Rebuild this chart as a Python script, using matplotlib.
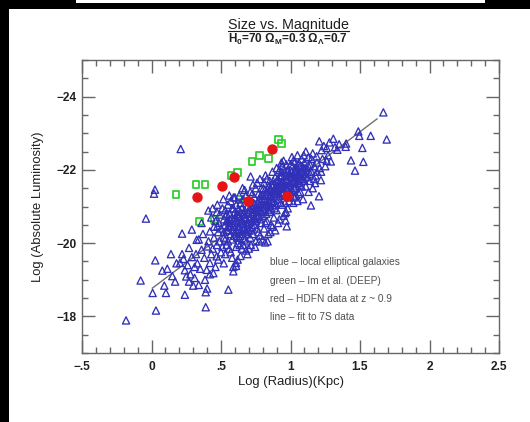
import matplotlib
matplotlib.use("Agg")
import matplotlib.pyplot as plt
from matplotlib.patches import Rectangle
from matplotlib.lines import Line2D

plt.rcParams['font.family'] = ['Liberation Sans', 'DejaVu Sans']
plt.rcParams['mathtext.fontset'] = 'custom'
plt.rcParams['mathtext.rm'] = 'Liberation Sans:bold'
plt.rcParams['mathtext.bf'] = 'Liberation Sans:bold'
plt.rcParams['mathtext.it'] = 'Liberation Sans:bold'

# ---------------- data ----------------
title = "Size vs. Magnitude"
subtitle = r"H$_0$=70 Ω$_M$=0.3 Ω$_Λ$=0.7"
x_label = "Log (Radius)(Kpc)"
y_label = "Log (Absolute Luminosity)"
xtick_values = [-0.5, 0, 0.5, 1, 1.5, 2, 2.5]
xtick_labels = ["\u2212.5", "0", ".5", "1", "1.5", "2", "2.5"]
ytick_values = [-24, -22, -20, -18]
ytick_labels = ["\u221224", "\u221222", "\u221220", "\u221218"]
notes = ["blue \u2013 local elliptical galaxies",
         "green \u2013 Im et al. (DEEP)",
         "red \u2013 HDFN data at z ~ 0.9",
         "line \u2013 fit to 7S data"]

# fit line (two end points)
fit_x = [0.006, 1.622]
fit_y = [-18.77, -23.39]

# red: HDFN z~0.9
red_x = [0.325, 0.505, 0.596, 0.697, 0.865, 0.973]
red_y = [-21.27, -21.55, -21.80, -21.14, -22.57, -21.28]

# green: Im et al. (DEEP)
green_x = [0.176, 0.320, 0.385, 0.572, 0.620, 0.723, 0.776, 0.840, 0.912, 0.937, 0.632, 0.344, 0.452]
green_y = [-21.32, -21.61, -21.60, -21.85, -21.92, -22.22, -22.40, -22.32, -22.82, -22.73, -21.20, -20.58, -20.64]

# blue: local elliptical galaxies
blue_tail = [(-0.183, -17.89), (-0.078, -18.98), (-0.04, -20.67), (0.008, -18.64), (0.032, -18.16),
             (0.027, -19.53), (0.078, -19.25), (0.114, -19.30), (0.092, -18.84), (0.104, -18.64),
             (0.14, -19.70), (0.025, -21.46), (0.018, -21.35), (0.15, -19.10), (0.17, -18.95),
             (0.18, -19.45), (0.205, -19.46)]
blue_low = [(0.21, -22.57), (0.22, -20.26), (0.22, -19.70), (0.23, -19.57), (0.24, -19.26), (0.24, -18.59),
            (0.25, -19.09), (0.27, -19.87), (0.29, -20.37), (0.26, -19.40), (0.28, -19.15), (0.29, -19.62),
            (0.27, -18.95),
            (0.30, -18.84), (0.31, -19.05), (0.325, -20.09), (0.34, -18.86), (0.36, -19.82), (0.40, -19.91),
            (0.39, -18.25), (0.40, -18.76), (0.39, -18.66), (0.385, -19.0), (0.397, -19.27), (0.33, -19.45),
            (0.35, -19.30), (0.37, -20.25), (0.38, -19.60), (0.32, -19.70), (0.36, -20.55), (0.34, -20.10),
            (0.31, -19.35),
            (0.409, -20.89), (0.474, -21.05), (0.42, -20.32), (0.474, -20.46), (0.42, -19.46), (0.445, -19.18),
            (0.469, -19.64), (0.41, -20.05), (0.43, -20.70), (0.44, -19.85), (0.45, -20.15), (0.46, -20.60),
            (0.47, -19.95), (0.48, -20.30), (0.49, -20.78), (0.43, -19.70), (0.45, -20.45), (0.48, -19.55),
            (0.46, -19.35), (0.49, -20.05), (0.44, -20.95), (0.47, -20.85), (0.42, -19.15), (0.485, -20.55)]
blue_mid = [(0.517, -21.2), (0.553, -18.73), (0.589, -19.35), (0.608, -19.46), (0.589, -19.23), (0.608, -19.38),
            (0.50, -20.40), (0.51, -19.90), (0.52, -20.65), (0.52, -20.15), (0.53, -20.90), (0.53, -19.70),
            (0.54, -20.35), (0.54, -20.80), (0.55, -20.05), (0.55, -21.05), (0.56, -20.55), (0.56, -19.85),
            (0.57, -20.25), (0.57, -21.15), (0.58, -20.70), (0.58, -19.60), (0.59, -20.45), (0.59, -20.95),
            (0.50, -19.75), (0.51, -20.95), (0.52, -19.45), (0.53, -20.50), (0.54, -19.95), (0.55, -20.60),
            (0.56, -21.30), (0.57, -19.75), (0.58, -20.10), (0.59, -21.25), (0.595, -20.20),
            (0.713, -21.82), (0.60, -20.85), (0.60, -20.30), (0.61, -19.90), (0.61, -21.05), (0.62, -20.55),
            (0.62, -20.00), (0.63, -21.30), (0.63, -20.75), (0.64, -20.20), (0.64, -19.65), (0.65, -20.95),
            (0.65, -20.45), (0.66, -21.20), (0.66, -19.95), (0.67, -20.65), (0.67, -21.45), (0.68, -20.35),
            (0.68, -19.80), (0.69, -21.00), (0.69, -20.50), (0.60, -21.25), (0.61, -20.60), (0.62, -19.55),
            (0.63, -20.40), (0.64, -21.10), (0.65, -19.85), (0.66, -20.80), (0.67, -20.10), (0.68, -21.30),
            (0.69, -19.70), (0.695, -20.85), (0.655, -21.50), (0.625, -20.90), (0.675, -20.30), (0.645, -20.60),
            (0.685, -20.05), (0.615, -20.15), (0.635, -19.95), (0.665, -20.40),
            (0.776, -20.05), (0.70, -21.15), (0.70, -20.55), (0.71, -20.15), (0.71, -21.40), (0.72, -20.80),
            (0.72, -20.35), (0.73, -21.60), (0.73, -20.95), (0.74, -20.50), (0.74, -21.25), (0.75, -20.05),
            (0.75, -21.00), (0.76, -21.65), (0.76, -20.70), (0.77, -20.30), (0.77, -21.35), (0.78, -20.90),
            (0.78, -21.75), (0.79, -20.55), (0.79, -21.15), (0.70, -19.85), (0.71, -20.70), (0.72, -21.10),
            (0.73, -20.25), (0.74, -20.85), (0.75, -21.50), (0.76, -20.40), (0.77, -20.95), (0.78, -20.20),
            (0.79, -21.50), (0.705, -20.95), (0.725, -21.35), (0.745, -19.90), (0.765, -21.10), (0.785, -20.65),
            (0.735, -20.65), (0.755, -20.75), (0.715, -19.95), (0.795, -20.85)]
blue_high = [(0.817, -20.02), (0.80, -21.30), (0.80, -20.75), (0.81, -21.65), (0.81, -20.40), (0.82, -21.05),
             (0.82, -21.85), (0.83, -20.60), (0.83, -21.40), (0.84, -21.15), (0.84, -20.25), (0.85, -21.70),
             (0.85, -20.85), (0.86, -21.45), (0.86, -20.50), (0.87, -21.95), (0.87, -21.10), (0.88, -20.70),
             (0.88, -21.60), (0.89, -21.25), (0.89, -20.35), (0.80, -20.10), (0.81, -21.00), (0.82, -20.55),
             (0.83, -21.75), (0.84, -20.90), (0.85, -21.30), (0.86, -20.95), (0.87, -20.45), (0.88, -21.35),
             (0.89, -21.80), (0.805, -21.50), (0.825, -20.80), (0.845, -21.55), (0.865, -21.20), (0.885, -20.95),
             (0.835, -20.05), (0.855, -20.30), (0.875, -21.70), (0.895, -21.05),
             (0.968, -20.85), (0.973, -20.46), (0.965, -20.62), (0.96, -20.82), (0.90, -21.50), (0.90, -20.90),
             (0.91, -21.75), (0.91, -21.20), (0.92, -22.00), (0.92, -20.65), (0.93, -21.40), (0.93, -21.85),
             (0.94, -21.05), (0.94, -22.10), (0.95, -21.60), (0.95, -20.75), (0.96, -21.95), (0.96, -21.30),
             (0.97, -21.70), (0.97, -22.15), (0.98, -21.45), (0.98, -20.95), (0.99, -21.90), (0.99, -21.15),
             (0.90, -22.05), (0.91, -20.55), (0.92, -21.55), (0.93, -21.10), (0.94, -21.65), (0.95, -22.25),
             (0.96, -21.10), (0.97, -21.50), (0.98, -22.00), (0.99, -21.60), (0.905, -21.35), (0.925, -21.80),
             (0.945, -21.35), (0.965, -21.85), (0.985, -21.25), (0.935, -22.20),
             (1.032, -22.23), (1.04, -21.30), (1.00, -21.80), (1.00, -22.15), (1.01, -21.45), (1.01, -22.35),
             (1.02, -21.65), (1.02, -21.10), (1.03, -21.95), (1.03, -21.50), (1.04, -22.05), (1.05, -21.70),
             (1.05, -22.40), (1.06, -21.85), (1.06, -21.35), (1.07, -22.10), (1.07, -21.60), (1.08, -21.95),
             (1.08, -22.30), (1.09, -21.75), (1.09, -21.20), (1.00, -21.40), (1.01, -21.95), (1.02, -22.25),
             (1.03, -21.25), (1.04, -21.80), (1.05, -21.15), (1.06, -22.20), (1.07, -21.40), (1.08, -21.55),
             (1.09, -22.05), (1.015, -21.70), (1.035, -22.00), (1.055, -21.90), (1.075, -21.80), (1.095, -22.40)]
blue_core = [(0.52, -20.30), (0.53, -20.10), (0.54, -20.60), (0.55, -20.35), (0.56, -20.80), (0.57, -20.45),
             (0.58, -20.95), (0.59, -20.65), (0.60, -20.55), (0.61, -20.35), (0.62, -20.75), (0.63, -20.15),
             (0.64, -20.85), (0.65, -20.65), (0.66, -20.55), (0.67, -20.90), (0.68, -20.70), (0.69, -20.25),
             (0.70, -20.35), (0.71, -20.90), (0.72, -20.60), (0.73, -20.80), (0.74, -21.05), (0.75, -20.60),
             (0.76, -20.95), (0.77, -20.75), (0.78, -21.05), (0.79, -20.90), (0.80, -21.05), (0.81, -21.20),
             (0.82, -21.30), (0.83, -21.05), (0.84, -21.35), (0.85, -21.10), (0.86, -21.30), (0.87, -21.55),
             (0.88, -21.15), (0.89, -21.45), (0.90, -21.70), (0.91, -21.45), (0.92, -21.30), (0.93, -21.60),
             (0.94, -21.85), (0.95, -21.40), (0.96, -21.65), (0.97, -21.30), (0.98, -21.75), (0.99, -21.40),
             (1.00, -21.60), (1.01, -21.80), (1.02, -21.90), (1.03, -21.70), (1.04, -21.55), (1.05, -22.00),
             (1.06, -21.65), (1.07, -21.95), (1.08, -21.75), (1.09, -21.95), (1.10, -21.70), (1.11, -21.85),
             (1.12, -21.95), (1.13, -22.10), (1.14, -21.90),
             (0.565, -20.65), (0.585, -20.35), (0.605, -20.70), (0.625, -20.45), (0.645, -20.35), (0.665, -20.70),
             (0.685, -20.55), (0.705, -20.65), (0.725, -20.45), (0.745, -20.70), (0.765, -20.85), (0.785, -21.30),
             (0.805, -20.90), (0.825, -21.15), (0.845, -21.00), (0.865, -21.60), (0.885, -21.50), (0.905, -21.55),
             (0.925, -21.65), (0.945, -21.50), (0.965, -21.55), (0.985, -21.85), (1.005, -21.65), (1.025, -21.50),
             (1.045, -21.95), (1.065, -21.75), (1.085, -22.10), (1.105, -22.05),
             (0.535, -20.75), (0.555, -20.45), (0.575, -20.55), (0.615, -20.80), (0.655, -20.25), (0.695, -20.40),
             (0.735, -21.10), (0.775, -21.20), (0.815, -21.45), (0.855, -21.50), (0.895, -21.35), (0.935, -21.95),
             (0.975, -21.95), (1.015, -22.10)]
blue_top = [(1.147, -21.03), (1.176, -21.64), (1.188, -22.37), (1.10, -21.90), (1.10, -22.20), (1.11, -21.55),
            (1.12, -22.05), (1.12, -21.80), (1.13, -22.35), (1.14, -21.70), (1.14, -22.15), (1.15, -21.95),
            (1.16, -22.45), (1.16, -21.50), (1.17, -22.10), (1.18, -21.85), (1.19, -22.20), (1.11, -22.50),
            (1.13, -21.40), (1.15, -22.30), (1.17, -21.75), (1.19, -21.95),
            (1.205, -21.28), (1.219, -21.72), (1.207, -22.78), (1.224, -22.54), (1.29, -22.23), (1.21, -22.05),
            (1.23, -22.30), (1.25, -22.10), (1.26, -22.60), (1.27, -22.40), (1.28, -22.75), (1.22, -21.95),
            (1.24, -22.65), (1.26, -22.25),
            (1.308, -22.85), (1.337, -22.55), (1.32, -22.62), (1.35, -22.70), (1.397, -22.63), (1.40, -22.72),
            (1.435, -22.26), (1.464, -21.98), (1.488, -23.05), (1.495, -22.93), (1.517, -22.60), (1.524, -22.22),
            (1.577, -22.93), (1.668, -23.57), (1.692, -22.83)]

blue_pts = blue_tail + blue_low + blue_mid + blue_high + blue_core + blue_top
blue_x = [p[0] for p in blue_pts]
blue_y = [p[1] for p in blue_pts]

# ---------------- figure ----------------
W, H = 530, 422
fig = plt.figure(figsize=(W / 100, H / 100), dpi=100, facecolor='black')

def px_rect(x0, y0top, x1, y1top, color):
    # rectangle given in pixel coords with origin at top-left
    fig.add_artist(Rectangle((x0 / W, 1 - y1top / H), (x1 - x0) / W, (y1top - y0top) / H,
                             transform=fig.transFigure, facecolor=color, edgecolor='none', zorder=-10))

px_rect(9, 9, 530, 422, 'white')
px_rect(76, 0, 485, 3, 'white')

ax = fig.add_axes([82 / W, 1 - 353 / H, 417 / W, 293 / H])
ax.set_facecolor('white')

ax.plot(fit_x, fit_y, color='#707070', lw=1.0, zorder=2)
ax.scatter(green_x, green_y, marker='s', s=24, facecolors='none', edgecolors='#2fcf2f', linewidths=1.3, zorder=3)
ax.scatter(blue_x, blue_y, marker='^', s=27, facecolors='none', edgecolors='#3030b8', linewidths=0.95, zorder=4)
ax.scatter(red_x, red_y, marker='o', s=42, facecolors='#e51515', edgecolors='#e51515', zorder=5)

ax.set_xlim(-0.5, 2.5)
ax.set_ylim(-17, -25)
ax.set_xticks(xtick_values)
ax.set_xticklabels(xtick_labels)
ax.set_yticks(ytick_values)
ax.set_yticklabels(ytick_labels)
ax.set_xticks([v / 10 for v in range(-5, 26)], minor=True)
ax.set_yticks([-25 + 0.5 * i for i in range(17)], minor=True)
ax.tick_params(which='both', direction='in', top=True, right=True, color='#666666', width=1.0)
ax.tick_params(which='major', length=9.5, labelsize=8.6, labelcolor='#202020')
ax.tick_params(which='minor', length=4.5)
ax.tick_params(axis='x', which='major', pad=6)
ax.tick_params(axis='y', which='major', pad=4)
for lab in ax.get_xticklabels() + ax.get_yticklabels():
    lab.set_fontweight('bold')
for sp in ax.spines.values():
    sp.set_color('#666666')
    sp.set_linewidth(1.0)

ax.set_xlabel(x_label, fontsize=9.4, color='#202020', labelpad=2)
ax.set_ylabel(y_label, fontsize=9.4, color='#202020', labelpad=9)

note_y = [0.3106, 0.2457, 0.1843, 0.1229]
for t, yy in zip(notes, note_y):
    ax.text(0.451, yy, t, transform=ax.transAxes, fontsize=7.3, color='#505050', va='center', ha='left')

tt = fig.text(288 / W, 1 - 24.5 / H, title, ha='center', va='center', fontsize=10.3, color='#202020')
fig.text(288 / W, 1 - 39 / H, subtitle, ha='center', va='center', fontsize=8.5, color='#202020',
         fontweight='bold')

fig.canvas.draw()
bb = tt.get_window_extent()
uy = (bb.y0 + 0.5) / H
fig.add_artist(Line2D([bb.x0 / W, bb.x1 / W], [uy, uy], transform=fig.transFigure, color='#202020',
                      lw=0.8, zorder=5))

fig.savefig('out.png', dpi=100, facecolor='black')
